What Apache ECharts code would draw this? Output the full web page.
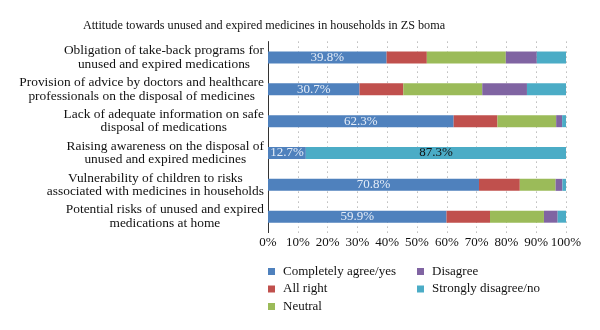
<!DOCTYPE html>
<html>
<head>
<meta charset="utf-8">
<script src="https://cdn.jsdelivr.net/npm/echarts@6/dist/echarts.min.js"></script>
<style>
  html, body { margin: 0; padding: 0; background: #fff; }
  #chart { width: 600px; height: 330px; }
</style>
</head>
<body>
<div id="chart"></div>
<script>
const categories = [
  "Obligation of take-back programs for\nunused and expired medications",
  "Provision of advice by doctors and healthcare\nprofessionals on the disposal of medicines",
  "Lack of adequate information on safe\ndisposal of medications",
  "Raising awareness on the disposal of\nunused and expired medicines",
  "Vulnerability of children to risks\nassociated with medicines in households",
  "Potential risks of unused and expired\nmedications at home"
];
const agree = [39.8, 30.7, 62.3, 12.7, 70.8, 59.9];
const allRight = [13.5, 14.7, 14.7, 0, 13.7, 14.6];
const neutral = [26.5, 26.5, 19.7, 0, 12.0, 18.1];
const disagree = [10.4, 15.0, 2.0, 0, 2.3, 4.6];
const strongly = [9.8, 13.1, 1.3, 87.3, 1.2, 2.8];
const seriesNames = ["Completely agree/yes", "All right", "Neutral", "Disagree", "Strongly disagree/no"];
const colors = ["#4F81BD", "#C0504D", "#9BBB59", "#8064A2", "#4BACC6"];

const serif = "Liberation Serif";
const chart = echarts.init(document.getElementById("chart"));

function bar(name, data, label) {
  return {
    name: name,
    type: "bar",
    stack: "total",
    barWidth: 12,
    data: data,
    label: label || { show: false },
  };
}

function legendPart(names, left) {
  return {
    data: names,
    orient: "vertical",
    left: left,
    top: 265,
    padding: 0,
    itemWidth: 7,
    itemHeight: 7,
    itemGap: 4.5,
    icon: "rect",
    textStyle: { fontFamily: serif, fontSize: 13, color: "#111", padding: [0, 0, 0, 3] },
  };
}

const option = {
  color: colors,
  animation: false,
  title: {
    text: "Attitude towards unused and expired medicines in households in ZS boma",
    left: 264,
    top: 20,
    textAlign: "center",
    padding: 0,
    textStyle: { fontFamily: serif, fontSize: 12.2, fontWeight: "normal", color: "#111" },
  },
  legend: [legendPart(seriesNames.slice(0, 3), 268), legendPart(seriesNames.slice(3), 417)],
  grid: { left: 268, right: 34, top: 41.6, height: 191 },
  xAxis: {
    type: "value",
    min: 0,
    max: 100,
    interval: 10,
    axisLine: { show: false },
    axisTick: { show: false },
    axisLabel: { formatter: "{value}%", fontFamily: serif, fontSize: 13, color: "#111", margin: 3 },
    splitLine: { show: true, lineStyle: { color: "#999", type: [1, 4], width: 1 } },
  },
  yAxis: {
    type: "category",
    data: categories,
    inverse: true,
    axisTick: { show: false },
    axisLine: { show: true, lineStyle: { color: "#333", width: 1 } },
    axisLabel: {
      margin: 4,
      align: "right",
      formatter: (v) => v.split("\n").map((s) => "{c|" + s + "}").join("\n"),
      rich: {
        c: { fontFamily: serif, fontSize: 13.4, color: "#111", lineHeight: 13.5, align: "center" },
      },
    },
  },
  series: [
    bar(seriesNames[0], agree, {
      show: true,
      position: "inside",
      formatter: (p) => p.value.toFixed(1) + "%",
      fontFamily: serif,
      fontSize: 13,
      color: "#e4ecf7",
    }),
    bar(seriesNames[1], allRight),
    bar(seriesNames[2], neutral),
    bar(seriesNames[3], disagree),
    bar(seriesNames[4], strongly, {
      show: true,
      position: "inside",
      formatter: (p) => (p.value > 50 ? p.value.toFixed(1) + "%" : ""),
      fontFamily: serif,
      fontSize: 13,
      color: "#111",
    }),
  ],
};

chart.setOption(option);
</script>
</body>
</html>
